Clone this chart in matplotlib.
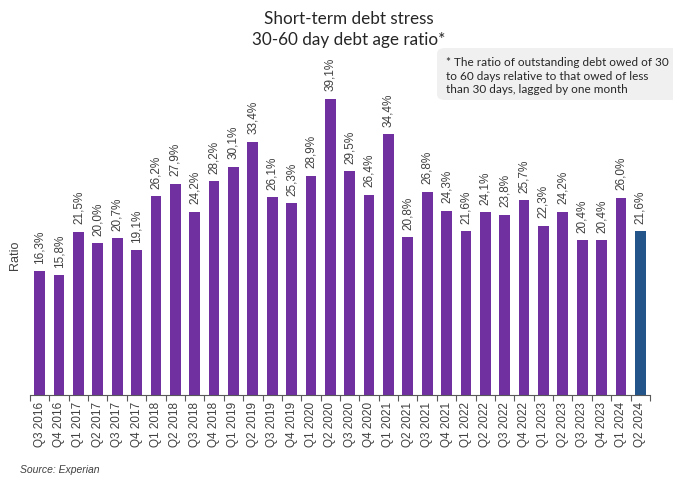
import matplotlib
matplotlib.use("Agg")
import matplotlib.pyplot as plt
from matplotlib.patches import FancyBboxPatch
import numpy as np

quarters = ["Q3 2016", "Q4 2016", "Q1 2017", "Q2 2017", "Q3 2017", "Q4 2017",
            "Q1 2018", "Q2 2018", "Q3 2018", "Q4 2018", "Q1 2019", "Q2 2019",
            "Q3 2019", "Q4 2019", "Q1 2020", "Q2 2020", "Q3 2020", "Q4 2020",
            "Q1 2021", "Q2 2021", "Q3 2021", "Q4 2021", "Q1 2022", "Q2 2022",
            "Q3 2022", "Q4 2022", "Q1 2023", "Q2 2023", "Q3 2023", "Q4 2023",
            "Q1 2024", "Q2 2024"]
ratio = [16.3, 15.8, 21.5, 20.0, 20.7, 19.1, 26.2, 27.9, 24.2, 28.2, 30.1, 33.4,
         26.1, 25.3, 28.9, 39.1, 29.5, 26.4, 34.4, 20.8, 26.8, 24.3, 21.6, 24.1,
         23.8, 25.7, 22.3, 24.2, 20.4, 20.4, 26.0, 21.6]

purple = "#7030A0"
latest = "#24558A"
text_col = "#404040"

fig = plt.figure(figsize=(6.73, 4.79), dpi=100)
W, H = 673, 479
ax = fig.add_axes([30 / W, (H - 395) / H, 620 / W, 341 / H])

x = np.arange(len(quarters))
colors = [purple] * (len(quarters) - 1) + [latest]
bars = ax.bar(x, ratio, width=0.55, color=colors)

for xi, v in zip(x, ratio):
    ax.annotate(f"{v:.1f}%".replace(".", ","), (xi, v), xytext=(0, 5.5),
                textcoords="offset points", rotation=90, ha="center", va="bottom",
                fontsize=8.5, family="Liberation Sans", color=text_col)

ax.set_xlim(-0.5, len(quarters) - 0.5)
ax.set_ylim(0, 45)
ax.set_xticks(x)
ax.set_xticklabels(quarters, rotation=90, fontsize=8.5, family="Liberation Sans",
                   color=text_col)
ax.tick_params(axis="x", which="major", length=0, pad=5)
ax.set_xticks(np.arange(-0.5, len(quarters)), minor=True)
ax.tick_params(axis="x", which="minor", length=4, color="#595959", width=0.8)
ax.set_yticks([])
for s in ["top", "right", "left"]:
    ax.spines[s].set_visible(False)
ax.spines["bottom"].set_color("#595959")
ax.spines["bottom"].set_linewidth(0.8)

fig.text(15 / W, 1 - 255 / H, "Ratio", rotation=90, ha="center", va="center",
         fontsize=9, family="Liberation Sans", color=text_col)

fig.text(349 / W, 1 - 19 / H, "Short-term debt stress", ha="center", va="center",
         fontsize=12.3, family="Lato", color="#262626")
fig.text(349 / W, 1 - 40 / H, "30-60 day debt age ratio*", ha="center", va="center",
         fontsize=12.3, family="Lato", color="#262626")

box = FancyBboxPatch((437 / W, 1 - 100 / H), 250 / W, 52 / H,
                     boxstyle="round,pad=0,rounding_size=0.012",
                     transform=fig.transFigure, facecolor="#F0F0F0",
                     edgecolor="none", zorder=0)
fig.patches.append(box)
note = ("* The ratio of outstanding debt owed of 30\n"
        "to 60 days relative to that owed of less\n"
        "than 30 days, lagged by one month")
fig.text(446 / W, 1 - 76 / H, note, ha="left", va="center", fontsize=8.5,
         family="Lato", color="#262626", linespacing=1.3)

fig.text(20 / W, 1 - 470 / H, "Source: Experian", ha="left", va="center",
         fontsize=7.5, family="Liberation Sans", style="italic", color=text_col)

fig.savefig("out.png", dpi=100)
